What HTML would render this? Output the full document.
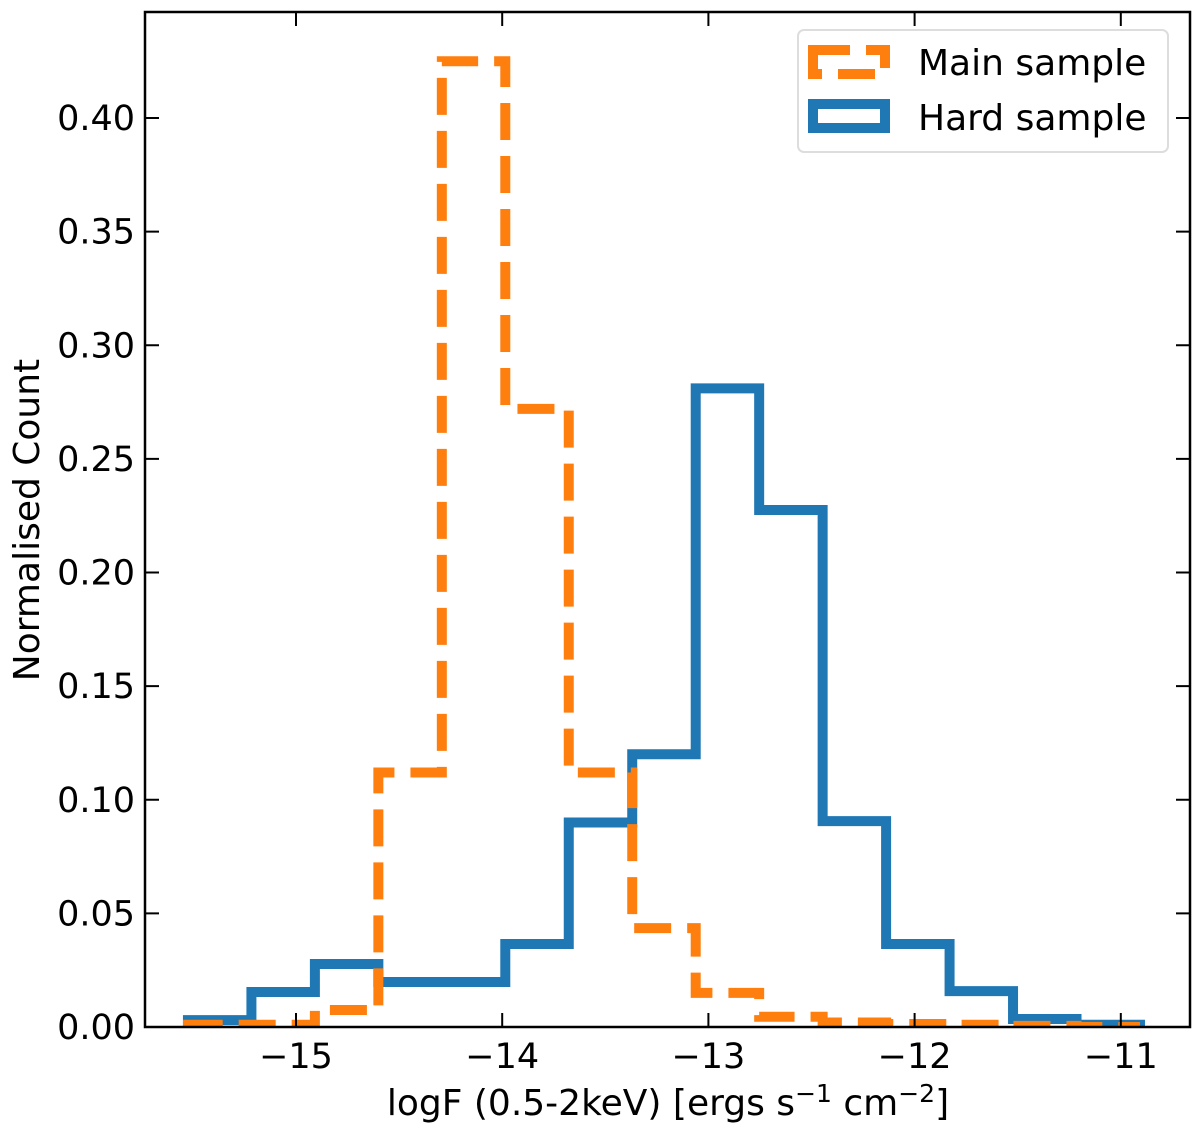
<!DOCTYPE html>
<html><head><meta charset="utf-8"><style>
body{margin:0;background:#fff}
svg text{font-family:"DejaVu Sans","Liberation Sans",sans-serif;fill:#000}
</style></head><body>
<svg id="chart" width="1200" height="1133" viewBox="0 0 1200 1133">
<g id="plot"></g>
</svg>
<script>
const binStart = -15.524;
const binWidth = 0.3078;
const mainValues = [0.001,0.001,0.0075,0.112,0.425,0.272,0.112,0.0435,0.015,0.0045,0.002,0.0013,0.001,0.0005,0.0];
const hardValues = [0.003,0.0154,0.0277,0.0198,0.0198,0.0365,0.090,0.120,0.281,0.2275,0.0906,0.0365,0.0158,0.0035,0.001];
const xTicks = [-15,-14,-13,-12,-11];
const xTickLabels = ["\u221215","\u221214","\u221213","\u221212","\u221211"];
const yTicks = [0,0.05,0.10,0.15,0.20,0.25,0.30,0.35,0.40];
const yTickLabels = ["0.00","0.05","0.10","0.15","0.20","0.25","0.30","0.35","0.40"];

const L=145,R=1190,T=12,B=1027;
const xs = v => 296 + 206.2*(v+15);
const ys = v => 1027 - 2272.5*v;
const NS="http://www.w3.org/2000/svg";
const svg=document.getElementById('chart');
function mk(t,a,p){const e=document.createElementNS(NS,t);for(const k in a)e.setAttribute(k,a[k]);(p||svg).appendChild(e);return e;}

function stepPath(vals){
  let d=`M${xs(binStart)},${ys(0)}`;
  vals.forEach((v,i)=>{const x0=xs(binStart+i*binWidth),x1=xs(binStart+(i+1)*binWidth);d+=` L${x0},${ys(v)} L${x1},${ys(v)}`;});
  d+=` L${xs(binStart+vals.length*binWidth)},${ys(0)}`;
  return d;
}
const cp=mk('clipPath',{id:'cp'});mk('rect',{x:L,y:T,width:R-L,height:B-T},cp);
const hard=mk('path',{d:stepPath(hardValues),fill:'none',stroke:'#1f77b4','stroke-width':10,'stroke-linejoin':'miter','clip-path':'url(#cp)'});


const main=mk('path',{d:stepPath(mainValues),fill:'none',stroke:'#ff7f0e','stroke-width':10,'stroke-dasharray':'37,16','clip-path':'url(#cp)'});



const frame=mk('rect',{x:L,y:T,width:R-L,height:B-T,fill:'none',stroke:'#000','stroke-width':2.5});



xTicks.forEach((v,i)=>{
  const x=xs(v);
  mk('line',{x1:x,y1:B,x2:x,y2:B-14,stroke:'#000','stroke-width':2});
  mk('line',{x1:x,y1:T,x2:x,y2:T+14,stroke:'#000','stroke-width':2});
  const t=mk('text',{x:x,y:1068,'font-size':35,'text-anchor':'middle'});t.textContent=xTickLabels[i];
  
  
});
yTicks.forEach((v,i)=>{
  const y=ys(v);
  mk('line',{x1:L,y1:y,x2:L+14,y2:y,stroke:'#000','stroke-width':2});
  mk('line',{x1:R,y1:y,x2:R-14,y2:y,stroke:'#000','stroke-width':2});
  const t=mk('text',{x:135,y:y+12,'font-size':35,'text-anchor':'end'});t.textContent=yTickLabels[i];
  
  
});
</script>
<svg width="1200" height="1133" style="position:absolute;left:0;top:0">
<text x="668" y="1115" font-size="36" text-anchor="middle">logF (0.5-2keV) [ergs s<tspan dy="-13" font-size="25">−1</tspan><tspan dy="13"> cm</tspan><tspan dy="-13" font-size="25">−2</tspan><tspan dy="13">]</tspan></text>
<text transform="translate(39,520) rotate(-90)" font-size="36" text-anchor="middle">Normalised Count</text>
<g>
<rect x="798" y="30" width="370" height="122" rx="6" fill="#fff" fill-opacity="0.8" stroke="#ddd" stroke-width="2"/>
<rect x="813" y="50" width="72" height="24" fill="none" stroke="#ff7f0e" stroke-width="10" stroke-dasharray="37,16"/>
<text x="918" y="75" font-size="36">Main sample</text>
<rect x="813" y="104" width="72" height="24" fill="none" stroke="#1f77b4" stroke-width="10"/>
<text x="918" y="130" font-size="36">Hard sample</text>
</g>
</svg>
</body></html>
